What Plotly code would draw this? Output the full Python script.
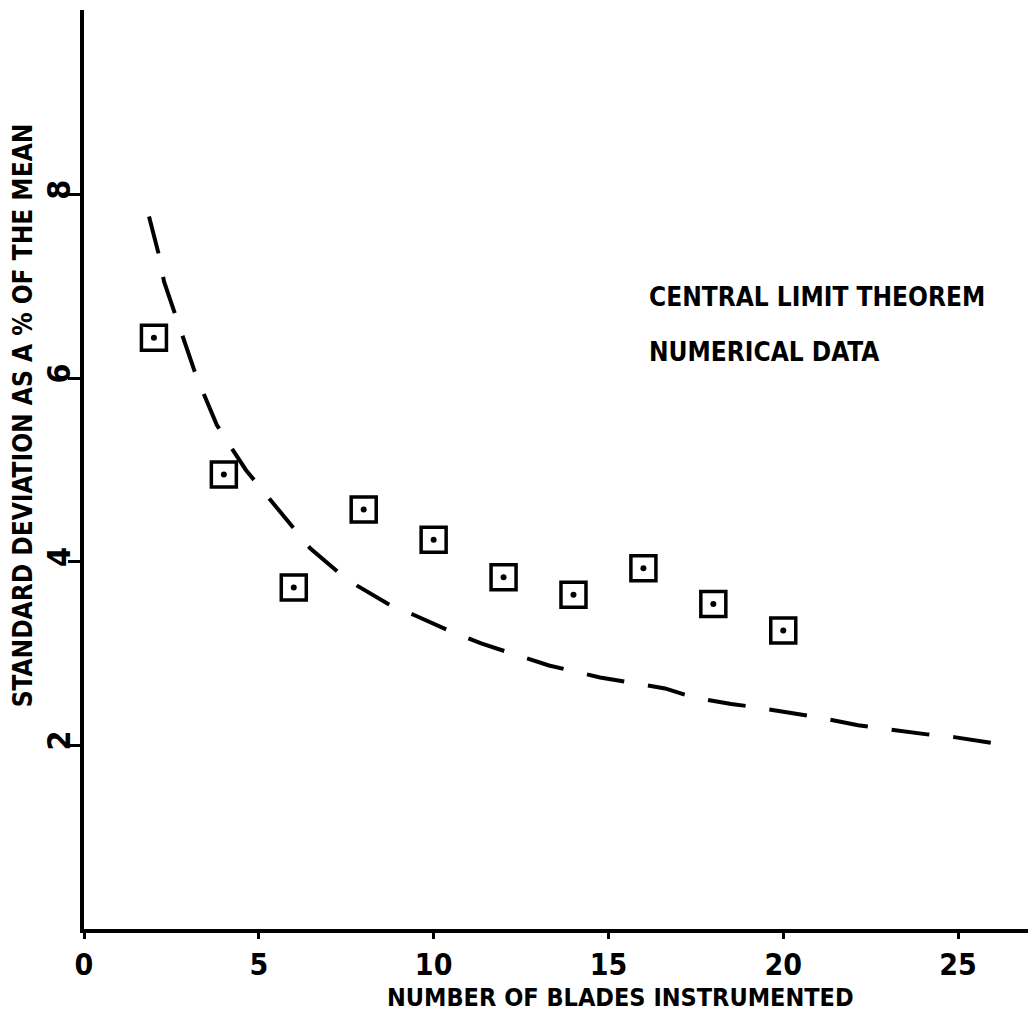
import plotly.graph_objects as go

# Measured data (squares)
blades = [2, 4, 6, 8, 10, 12, 14, 16, 18, 20]
std_pct = [6.44, 4.95, 3.72, 4.57, 4.24, 3.83, 3.64, 3.93, 3.54, 3.25]

# Central limit theorem curve (dashed)
clt_x = [1.86, 2.15, 2.29, 2.60, 2.86, 3.15, 3.38, 3.80, 4.20, 4.63, 6.46, 7.35, 7.81,
         8.70, 9.44, 10.56, 11.36, 12.61, 13.30, 14.76, 15.36, 16.62, 17.45, 18.51,
         19.14, 20.25, 20.94, 22.14, 22.85, 24.11, 24.89, 26.09]
clt_y = [7.76, 7.33, 7.05, 6.70, 6.40, 6.09, 5.87, 5.49, 5.25, 5.00, 4.15, 3.86, 3.74,
         3.54, 3.42, 3.23, 3.11, 2.95, 2.87, 2.74, 2.70, 2.62, 2.52, 2.45,
         2.42, 2.35, 2.31, 2.22, 2.18, 2.12, 2.09, 2.02]

x_ticks = [0, 5, 10, 15, 20, 25]
y_ticks = [2, 4, 6, 8]

FONT = "DejaVu Sans Condensed, DejaVu Sans, sans-serif"

fig = go.Figure()
fig.add_trace(go.Scatter(x=clt_x, y=clt_y, mode="lines",
                         line=dict(color="black", width=4, dash="38px,24px"),
                         showlegend=False))
fig.add_trace(go.Scatter(x=blades, y=std_pct, mode="markers",
                         marker=dict(symbol="square-open", size=25, color="black",
                                     line=dict(width=3.5, color="black")),
                         showlegend=False))
fig.add_trace(go.Scatter(x=blades, y=std_pct, mode="markers",
                         marker=dict(symbol="circle", size=6, color="black"),
                         showlegend=False))

fig.add_annotation(x=16.1, y=6.88, text="CENTRAL LIMIT THEOREM", showarrow=False,
                   xanchor="left", yanchor="middle",
                   font=dict(family=FONT, size=26, color="black", weight="bold"))
fig.add_annotation(x=16.1, y=6.28, text="NUMERICAL DATA", showarrow=False,
                   xanchor="left", yanchor="middle",
                   font=dict(family=FONT, size=26, color="black", weight="bold"))

# Axis titles (placed as in the reference)
fig.add_annotation(xref="paper", yref="paper", x=0.568, y=-0.075,
                   text="NUMBER OF BLADES INSTRUMENTED", showarrow=False,
                   xanchor="center", yanchor="middle",
                   font=dict(family=FONT, size=25, color="black", weight="bold"))
fig.add_annotation(xref="paper", yref="paper", x=-0.0646, y=0.559, textangle=-90,
                   text="STANDARD DEVIATION AS A % OF THE MEAN", showarrow=False,
                   xanchor="center", yanchor="middle",
                   font=dict(family=FONT, size=26, color="black", weight="bold"))

fig.update_layout(
    width=1028, height=1020,
    margin=dict(l=84, r=0, t=10, b=91),
    plot_bgcolor="white", paper_bgcolor="white",
    font=dict(family=FONT, color="black", size=26, weight="bold"),
)
fig.update_xaxes(range=[0, 27.0], tickvals=x_ticks, ticktext=[str(v) for v in x_ticks],
                 showgrid=False, zeroline=False, showline=True, linecolor="black",
                 linewidth=4, ticks="outside", ticklen=6, tickwidth=3, tickcolor="black",
                 tickfont=dict(size=30))
fig.update_yaxes(range=[0, 10.01], tickvals=y_ticks, ticktext=[str(v) for v in y_ticks],
                 showgrid=False, zeroline=False, showline=True, linecolor="black",
                 linewidth=4, ticks="outside", ticklen=12, tickwidth=3, tickcolor="black",
                 tickangle=-90, tickfont=dict(size=32), ticklabelstandoff=-15)

fig.write_html("out.html")
